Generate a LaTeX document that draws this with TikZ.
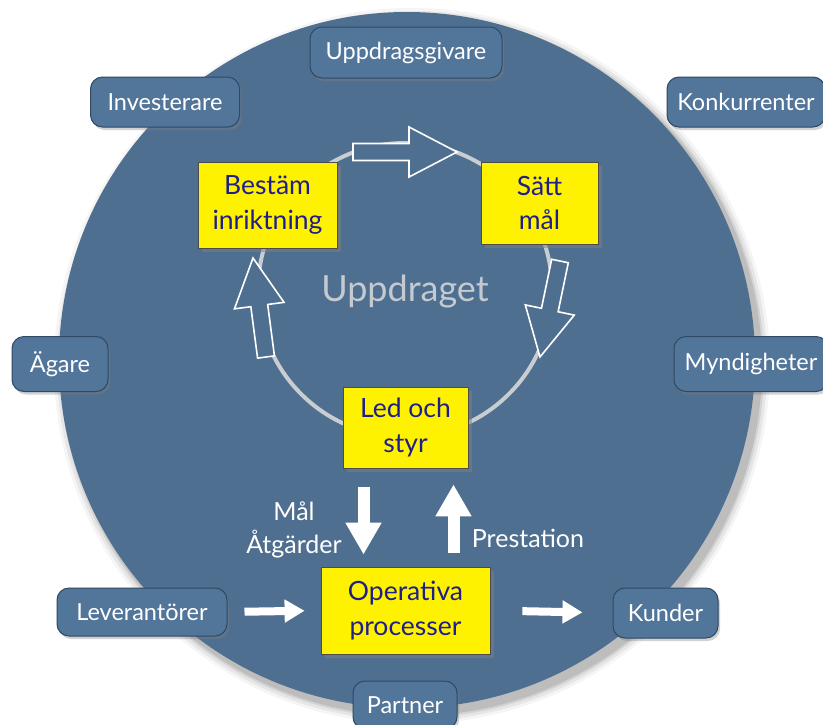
\documentclass[tikz,border=0pt]{standalone}
\usepackage{fontspec}
\setmainfont{Lato}
\usetikzlibrary{shadows,arrows.meta,calc}
\definecolor{disc}{HTML}{4F6F90}
\definecolor{boxblue}{HTML}{52759A}
\definecolor{boxedge}{HTML}{2E4963}
\definecolor{navy}{HTML}{1E1E8C}
\definecolor{ringcol}{HTML}{C8CDD2}
\definecolor{ghost}{HTML}{C4CAD0}
\newcommand\hollowarrow[2]{%
  \path (#1) coordinate (ta) (#2) coordinate (tb);
  \path ($(tb)!48pt!(ta)$) coordinate (th);
  \draw[hollow] ($(ta)!8.5pt!90:(tb)$) -- ($(th)!8.5pt!90:(tb)$) -- ($(th)!25pt!90:(tb)$) -- (tb)
     -- ($(th)!25pt!-90:(tb)$) -- ($(th)!8.5pt!-90:(tb)$) -- ($(ta)!8.5pt!-90:(tb)$) -- cycle;
}
\tikzset{
  outer/.style={draw=boxedge, line width=1pt, fill=boxblue, rounded corners=12pt, text=white,
    font=\fontsize{23.5}{26}\selectfont, inner sep=0pt,
    drop shadow={shadow xshift=2pt, shadow yshift=-3pt, opacity=0.35}},
  yel/.style={draw=black!70, line width=0.8pt, fill=yellow, text=navy,
    font=\fontsize{26.5}{35}\selectfont, align=center, inner sep=0pt,
    drop shadow={shadow xshift=4pt, shadow yshift=-4pt, opacity=0.5}},
  hollow/.style={draw=white, line width=1.6pt, fill=disc, line join=miter},
  wa/.style={draw=white, -{Triangle[width=34pt,length=32pt]}, line width=12pt},
  wsmall/.style={draw=white, -{Triangle[width=22pt,length=20pt]}, line width=8pt},
  lbl/.style={text=white, font=\fontsize{25}{33}\selectfont, align=center, inner sep=0pt},
}
\begin{document}
\begin{tikzpicture}[x=1pt,y=-1pt]
\useasboundingbox (0,0) rectangle (823,724);
\fill[white] (0,0) rectangle (823,724);
% big disc with soft shadow
\foreach \r/\o in {358/0.04, 355/0.06, 352/0.08, 350/0.1}
  \fill[black,opacity=\o] (412,366) circle[radius=\r pt];
\fill[disc] (407,360) circle[radius=348pt];
% ring
\draw[ringcol, line width=4pt] (405,290) circle[radius=147pt];
\node[text=ghost, font=\fontsize{36}{40}\selectfont] (upd) at (405,292) {Uppdraget};
% hollow arrows on ring
\hollowarrow{353,152}{457,152}
\hollowarrow{560,261}{540,357}
\hollowarrow{266,357}{253,258}
% yellow boxes
\node[yel, minimum width=139pt, minimum height=86pt] (best) at (267.5,205) {Bestäm\\inriktning};
\node[yel, minimum width=117pt, minimum height=82pt] (satt) at (539.5,203) {Sätt\\mål};
\node[yel, minimum width=125pt, minimum height=81pt] (led) at (405.5,427.5) {Led och\\styr};
\node[yel, minimum width=169pt, minimum height=87pt] (op) at (405.5,610.5) {Operativa\\processer};
% outer boxes
\node[outer, minimum width=192pt, minimum height=51pt] (uppg) at (406,52.5) {Uppdragsgivare};
\node[outer, minimum width=149pt, minimum height=50pt] (inv) at (165,102) {Investerare};
\node[outer, minimum width=158pt, minimum height=50pt] (konk) at (746,102) {Konkurrenter};
\node[outer, minimum width=96pt, minimum height=55pt] (agare) at (60,364) {Ägare};
\node[outer, minimum width=154pt, minimum height=55pt] (mynd) at (751,364) {Myndigheter};
\node[outer, minimum width=170pt, minimum height=48pt] (lev) at (142,612) {Leverantörer};
\node[outer, minimum width=105pt, minimum height=50pt] (kund) at (665.5,613) {Kunder};
\node[outer, minimum width=104pt, minimum height=48pt] (part) at (405,705) {Partner};
% white arrows
\draw[wa, shorten <=19pt, shorten >=12pt] ([xshift=-42pt]led.south) -- ([xshift=-42pt]op.north);
\draw[wa, shorten <=14pt, shorten >=16pt] ([xshift=48pt]op.north) -- ([xshift=48pt]led.south);
\draw[wsmall, shorten <=17pt, shorten >=16pt] (lev.east) -- (op.west);
\draw[wsmall, shorten <=32pt, shorten >=30pt] (op.east) -- (kund.west);
% labels
\node[lbl] (malatg) at (294,530) {Mål\\Åtgärder};
\node[lbl] (prest) at (528,538) {Prestation};
\end{tikzpicture}
\end{document}
